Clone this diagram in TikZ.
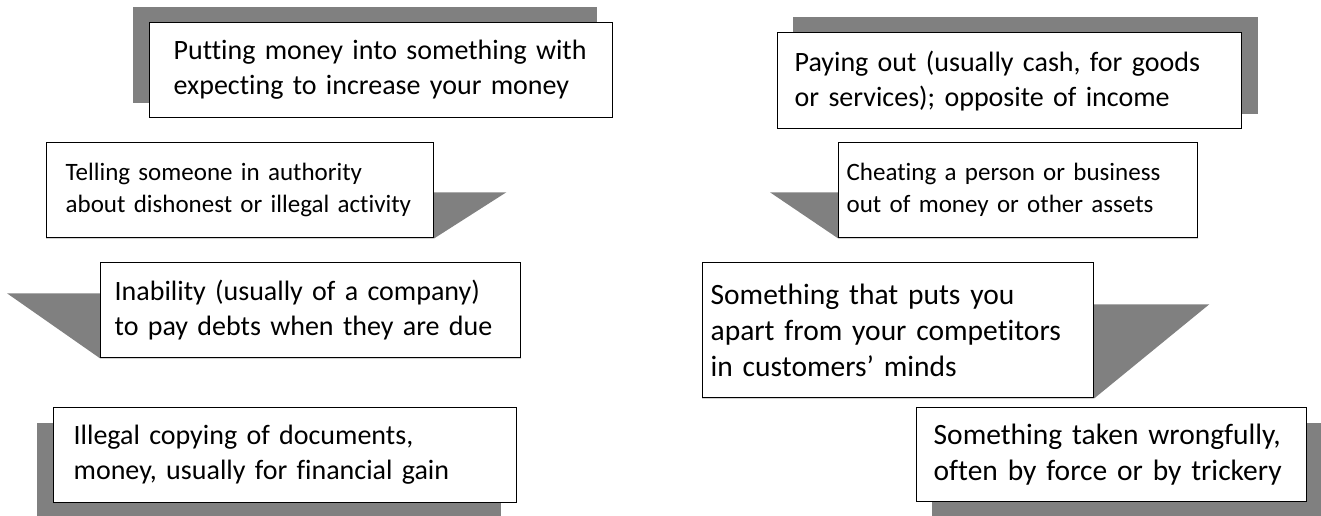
\documentclass[tikz,border=0pt]{standalone}
\usepackage{fontspec}
\setmainfont{Carlito}[Ligatures = NoCommon]
\definecolor{shadowgray}{HTML}{808080}
\tikzset{defn/.style = {draw, line width = 1.3pt, fill = white, align = left, anchor = north west, inner ysep = 0, font = \fontsize{28}{35}\selectfont}}
\tikzset{smalldefn/.style = {defn, font = \fontsize{25}{32}\selectfont}}
\tikzset{bigdefn/.style = {defn, font = \fontsize{29.5}{36}\selectfont}}
\tikzset{drop/.style = {fill = shadowgray}}
\usetikzlibrary{backgrounds}

\begin{document}
\begin{tikzpicture}[x = 1pt, y = -1pt]
    \useasboundingbox (0,0) rectangle (1321,515);
    % left column
    \node [defn, minimum width = 463, minimum height = 95, inner xsep = 24, text width = 415] (invest) at (149,22) {Putting money into something with\\expecting to increase your money};
    \node [smalldefn, minimum width = 387, minimum height = 95, inner xsep = 19, text width = 349] (report) at (46,142) {Telling someone in authority\\about dishonest or illegal activity};
    \node [defn, minimum width = 420, minimum height = 95, inner xsep = 14, text width = 392] (insolv) at (100,262) {Inability (usually of a company)\\to pay debts when they are due};
    \node [defn, minimum width = 463, minimum height = 95, inner xsep = 20, text width = 423] (forge) at (53,407) {Illegal copying of documents,\\money, usually for financial gain};
    % right column
    \node [defn, minimum width = 464, minimum height = 96, inner xsep = 17, text width = 430] (expense) at (777,32) {Paying out (usually cash, for goods\\or services); opposite of income};
    \node [smalldefn, minimum width = 359, minimum height = 95, inner xsep = 8, text width = 343] (fraud) at (838,142) {Cheating a person or business\\out of money or other assets};
    \node [bigdefn, minimum width = 391, minimum height = 135, inner xsep = 8, text width = 375] (usp) at (702,262) {Something that puts you\\apart from your competitors\\in customers’ minds};
    \node [bigdefn, minimum width = 390, minimum height = 94, inner xsep = 17, text width = 356] (theft) at (916,407) {Something taken wrongfully,\\often by force or by trickery};
    % shadows
    \begin{scope}[on background layer]
        \fill [drop] ([shift = {(-16,-15)}] invest.north west) rectangle ([shift = {(-16,-15)}] invest.south east);
        \fill [drop] ([shift = {(-16,16)}] forge.north west) rectangle ([shift = {(-16,16)}] forge.south east);
        \fill [drop] ([shift = {(16,-15)}] expense.north west) rectangle ([shift = {(16,-15)}] expense.south east);
        \fill [drop] ([shift = {(16,16)}] theft.north west) rectangle ([shift = {(16,16)}] theft.south east);
        \fill [drop] (report.south west) -- (report.south east) -- ([shift = {(72,-46)}] report.south east) -- ([shift = {(72,-46)}] report.south west) -- cycle;
        \fill [drop] (insolv.south west) -- (insolv.south east) -- ([shift = {(-93,-65)}] insolv.south east) -- ([shift = {(-93,-65)}] insolv.south west) -- cycle;
        \fill [drop] (fraud.south west) -- (fraud.south east) -- ([shift = {(-68,-46)}] fraud.south east) -- ([shift = {(-68,-46)}] fraud.south west) -- cycle;
        \fill [drop] (usp.south west) -- (usp.south east) -- ([shift = {(115,-94)}] usp.south east) -- ([shift = {(115,-94)}] usp.south west) -- cycle;
    \end{scope}
\end{tikzpicture}
\end{document}
